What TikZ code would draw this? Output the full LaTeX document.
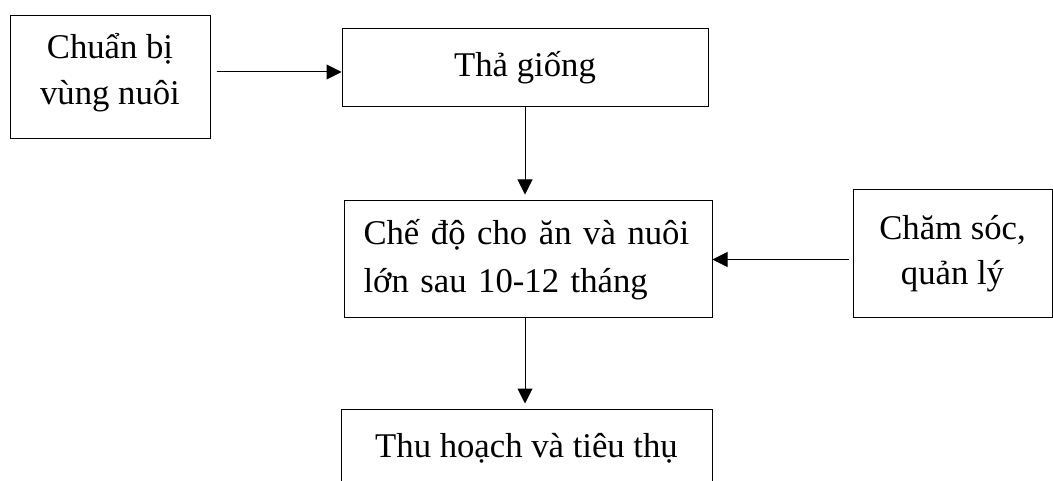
\documentclass[tikz,border=0pt]{standalone}
\usepackage{fontspec}
\setmainfont{Liberation Serif}
\usetikzlibrary{arrows.meta}
\begin{document}
\begin{tikzpicture}[x=1pt,y=1pt,
  box/.style={draw=black,line width=1pt,inner sep=0pt,font=\fontsize{34.7}{46}\selectfont,text depth=8pt},
  arr/.style={draw=black,line width=1pt,-{Triangle[length=15pt,width=15pt]}}]
\path[use as bounding box] (0,0) rectangle (1053,-481);
\clip (0,0) rectangle (1053,-481);
\node[box,minimum width=200pt,minimum height=123pt,align=center,text height=63pt] (b1) at (110,-77.5) {Chuẩn bị\\vùng nuôi};
\node[box,minimum width=366pt,minimum height=78pt,text height=26pt] (b2) at (525,-68) {Thả giống};
\node[box,minimum width=368pt,minimum height=117pt,text width=329pt,align=left,text height=0pt,text depth=29pt,
  font=\fontsize{34.7}{48}\selectfont] (b3) at (528,-259.5) {\makebox[329pt][s]{Chế độ cho ăn và nuôi}\\lớn sau 10-12 tháng};
\node[box,minimum width=199pt,minimum height=128pt,align=center,text height=70pt,
  font=\fontsize{34.7}{45}\selectfont] (b4) at (952.5,-254) {Chăm sóc,\\quản lý};
\node[box,minimum width=371pt,minimum height=78pt,text height=26pt] (b5) at (526.5,-448) {Thu hoạch và tiêu thụ};
\coordinate (y1) at (0,-72);
\draw[arr,shorten <=6pt] (b1.east |- y1) -- (b2.west |- y1);
\draw[arr,shorten >=6pt] (b2.south) -- (b2.south |- b3.north);
\draw[arr,shorten <=4pt] (b4.west |- b3.east) -- (b3.east);
\draw[arr,shorten >=5pt] (b2.south |- b3.south) -- (b2.south |- b5.north);
\end{tikzpicture}
\end{document}
